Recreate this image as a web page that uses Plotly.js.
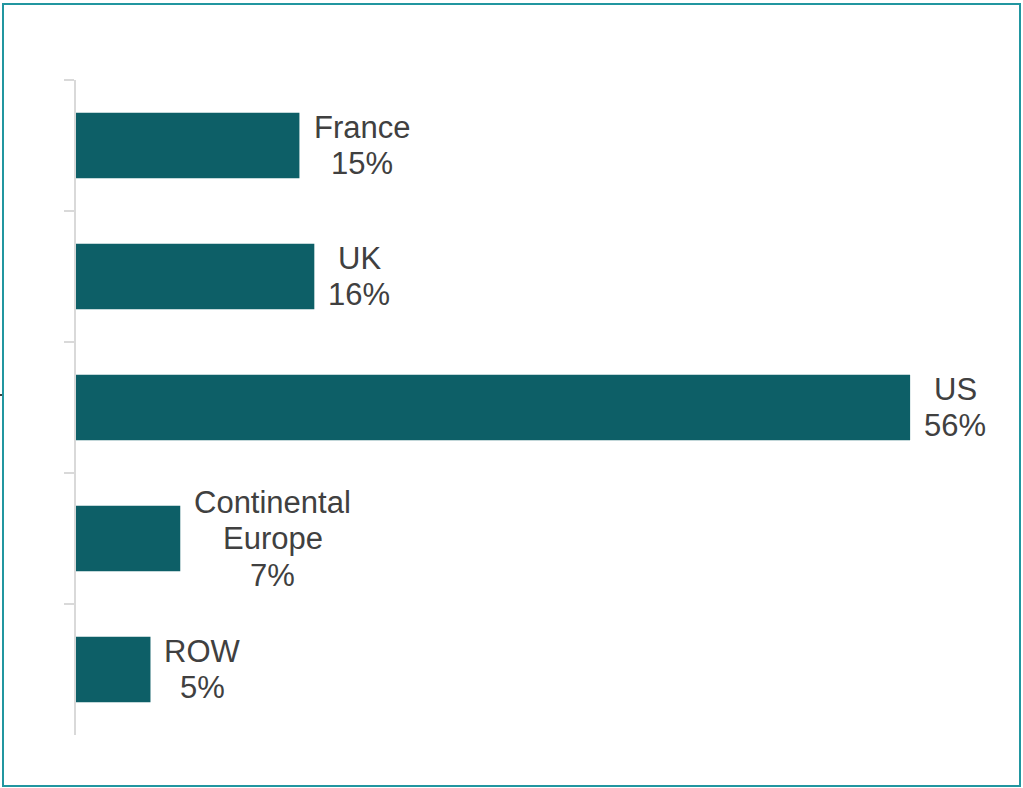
<!DOCTYPE html>
<html>
<head>
<meta charset="utf-8">
<script src="https://cdn.plot.ly/plotly-3.0.1.min.js"></script>
<style>
  html, body { margin: 0; padding: 0; background: #ffffff; }
  #chart { position: absolute; left: 0; top: 0; width: 1023px; height: 788px; }
  #frame { position: absolute; left: 2px; top: 3px; width: 1015px; height: 780px;
           border: 2px solid #2196A0; pointer-events: none; }
</style>
</head>
<body>
<div id="chart"></div>
<div id="frame"></div>
<script>
const categories = ["France", "UK", "US", "Continental Europe", "ROW"];
const labelLines = [["France"], ["UK"], ["US"], ["Continental", "Europe"], ["ROW"]];
const values = [15, 16, 56, 7, 5];

const barColor = "#0D5F67";
const textColor = "#404040";
const fontFamily = "Liberation Sans, Arial, sans-serif";
const fontSize = 31;
const lineStep = 36.5;
const gap = 14;

const trace = {
  type: "bar",
  orientation: "h",
  x: values,
  y: categories,
  width: 0.5,
  marker: { color: barColor },
  hoverinfo: "skip"
};

// measure text widths so lines can be centred on each other
const ctx = document.createElement("canvas").getContext("2d");
ctx.font = fontSize + "px 'Liberation Sans', Arial, sans-serif";

const annotations = [];
categories.forEach((c, i) => {
  const lines = labelLines[i].concat([values[i] + "%"]);
  const w = Math.max(...lines.map(s => ctx.measureText(s).width));
  const n = lines.length;
  lines.forEach((s, k) => {
    annotations.push({
      x: values[i],
      y: c,
      xref: "x",
      yref: "y",
      xanchor: "center",
      yanchor: "middle",
      xshift: gap + w / 2,
      yshift: ((n - 1) / 2 - k) * lineStep,
      showarrow: false,
      text: s,
      font: { family: fontFamily, size: fontSize, color: textColor }
    });
  });
});

const layout = {
  width: 1023,
  height: 788,
  margin: { l: 76, r: 25, t: 80, b: 53 },
  paper_bgcolor: "#ffffff",
  plot_bgcolor: "#ffffff",
  showlegend: false,
  xaxis: {
    range: [0, 61.9],
    showgrid: false,
    zeroline: false,
    showline: false,
    showticklabels: false,
    ticks: ""
  },
  yaxis: {
    type: "category",
    autorange: "reversed",
    showgrid: false,
    zeroline: false,
    showline: true,
    linecolor: "#D9D9D9",
    linewidth: 2,
    ticks: "outside",
    tickson: "boundaries",
    ticklen: 10,
    tickwidth: 2,
    tickcolor: "#D9D9D9",
    showticklabels: false
  },
  annotations: annotations,
  shapes: [{
    type: "line",
    xref: "paper", yref: "paper",
    x0: -76 / 922, x1: -73 / 922,
    y0: (735 - 395) / 655, y1: (735 - 395) / 655,
    line: { color: "#404040", width: 2 }
  }]
};

Plotly.newPlot("chart", [trace], layout, { displayModeBar: false, staticPlot: true });
</script>
</body>
</html>
